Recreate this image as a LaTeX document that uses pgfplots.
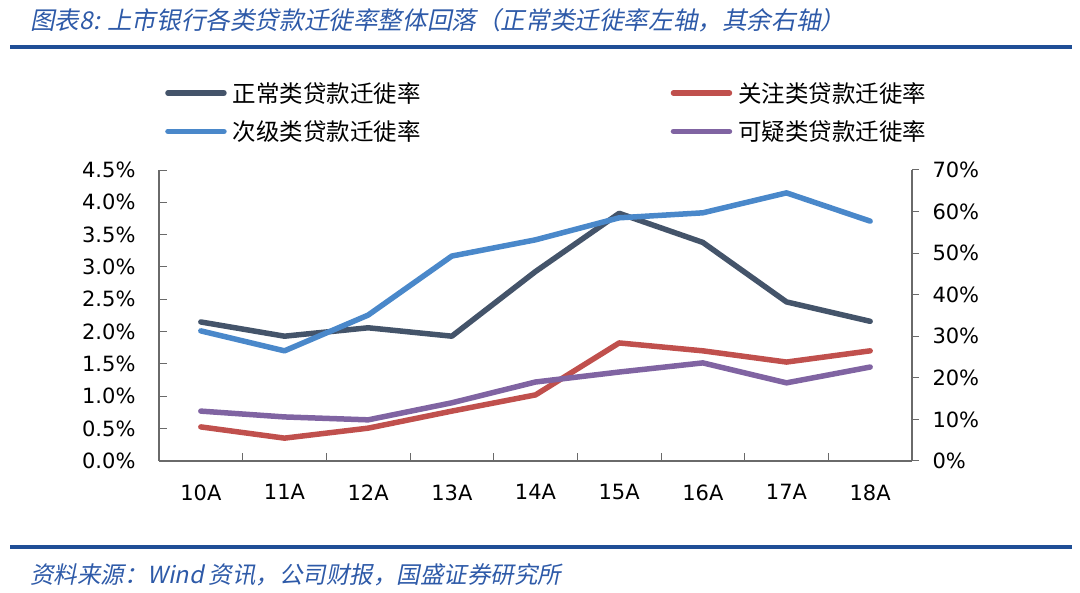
\documentclass[border=0pt]{standalone}
\usepackage{pgfplots}
\pgfplotsset{compat=1.18}
\usepackage{fontspec}
\setmainfont{DejaVu Sans}
\newfontfamily\cjk{Noto Sans CJK SC}
\newfontfamily\cjkit[FakeSlant=0.2]{Noto Sans CJK SC}

\definecolor{cnormal}{HTML}{44546A}
\definecolor{cattn}{HTML}{C0504D}
\definecolor{csub}{HTML}{4A88CA}
\definecolor{cdoubt}{HTML}{8064A2}
\definecolor{rule}{HTML}{1F4E96}
\definecolor{titleblue}{HTML}{2E5AA8}
\definecolor{axisgray}{HTML}{6A6A6A}

\pgfplotsset{
  base/.style={
    at={(159bp,132bp)}, anchor=south west,
    scale only axis, width=753bp, height=291bp,
    xmin=-0.5, xmax=8.5,
    axis line style={-, draw=axisgray, line width=1.1bp},
    tick style={draw=axisgray, line width=1bp},
    tick label style={font=\fontsize{21bp}{24bp}\selectfont},
    line join=round,
  },
  series/.style={#1, line width=5.5bp, line cap=round},
}

\begin{document}
\begin{tikzpicture}
\useasboundingbox (0,0) rectangle (1080bp,593bp);

\node[anchor=west, text=titleblue, inner sep=0pt] at (30bp,573bp)
  {\cjkit\fontsize{24.6bp}{28bp}\selectfont 图表8: 上市银行各类贷款迁徙率整体回落（正常类迁徙率左轴，其余右轴）};
\draw[rule, line width=3.5bp] (10bp,546bp) -- (1072bp,546bp);
\draw[rule, line width=3.5bp] (10bp,46bp) -- (1072bp,46bp);
\node[anchor=west, text=titleblue, inner sep=0pt] at (30bp,18bp)
  {\cjkit\fontsize{23.5bp}{27bp}\selectfont 资料来源：Wind 资讯，公司财报，国盛证券研究所};

% left axis: normal loans
\begin{axis}[base,
  ymin=0, ymax=4.5,
  axis x line*=bottom, axis y line*=left,
  xtick={0,...,8},
  xticklabels={10A,11A,12A,13A,14A,15A,16A,17A,18A},
  minor xtick={0.5,1.5,...,7.5},
  major x tick style={draw=none},
  ytick={0,0.5,1,1.5,2,2.5,3,3.5,4,4.5},
  yticklabels={0.0\%,0.5\%,1.0\%,1.5\%,2.0\%,2.5\%,3.0\%,3.5\%,4.0\%,4.5\%},
  tick align=inside,
  major tick length=8bp, minor tick length=8bp,
  xticklabel style={yshift=-20bp},
  yticklabel style={xshift=-20bp},
]
\addplot[series=cnormal] coordinates {
  (0,2.15)(1,1.93)(2,2.06)(3,1.93)(4,2.93)(5,3.83)(6,3.38)(7,2.46)(8,2.16)};
\end{axis}

% right axis: other categories
\begin{axis}[base,
  ymin=0, ymax=70,
  axis x line=none, axis y line*=right,
  ytick={0,10,...,70},
  yticklabels={0\%,10\%,20\%,30\%,40\%,50\%,60\%,70\%},
  tick align=outside, major tick length=7bp,
  yticklabel style={xshift=10bp},
  legend columns=2,
  legend style={draw=none, fill=none, inner sep=0pt,
    at={(0.008,1.302)}, anchor=north west,
    font=\cjk\fontsize{23.5bp}{27bp}\selectfont,
    nodes={inner sep=0pt, anchor=west},
    row sep=17bp,
    /tikz/every odd column/.append style={column sep=6bp},
    /tikz/every even column/.append style={column sep=250bp}},
  legend image code/.code={\draw[#1] (9bp,0bp) -- (65bp,0bp);},
]
\addlegendimage{series=cnormal}
\addlegendentry{正常类贷款迁徙率}
\addplot[series=cattn] coordinates {
  (0,8.2)(1,5.5)(2,7.9)(3,12.0)(4,15.9)(5,28.4)(6,26.5)(7,23.8)(8,26.5)};
\addlegendentry{关注类贷款迁徙率}
\addplot[series=csub] coordinates {
  (0,31.3)(1,26.5)(2,35.1)(3,49.3)(4,53.2)(5,58.5)(6,59.7)(7,64.5)(8,57.7)};
\addlegendentry{次级类贷款迁徙率}
\addplot[series=cdoubt] coordinates {
  (0,12.0)(1,10.6)(2,9.9)(3,14.0)(4,19.0)(5,21.4)(6,23.6)(7,18.8)(8,22.6)};
\addlegendentry{可疑类贷款迁徙率}
\end{axis}
\end{tikzpicture}
\end{document}
